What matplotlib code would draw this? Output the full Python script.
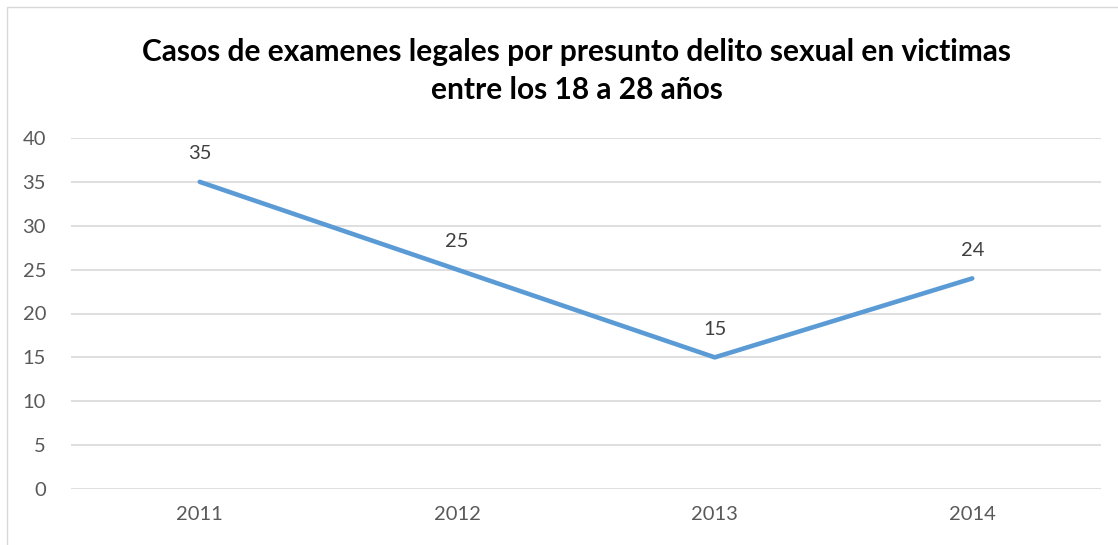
import matplotlib
matplotlib.use("Agg")
import matplotlib.pyplot as plt
from matplotlib.patches import Rectangle

# --- data ---------------------------------------
years = ["2011", "2012", "2013", "2014"]
casos = [35, 25, 15, 24]
y_ticks = [0, 5, 10, 15, 20, 25, 30, 35, 40]
title = "Casos de examenes legales por presunto delito sexual en victimas\nentre los 18 a 28 años"

plt.rcParams['font.family'] = ['Lato', 'DejaVu Sans']

W, H = 1118, 545
fig = plt.figure(figsize=(W / 100, H / 100), dpi=100)

# chart frame (only left/top edges visible in the crop)
fig.patches.append(Rectangle((7 / W, -0.1), 1.2, 1 - 7 / H + 0.1, transform=fig.transFigure,
                             fill=False, edgecolor='#D9D9D9', linewidth=1))

# plot area in pixels
left, right, top, bottom = 71, 1101, 138, 489
ax = fig.add_axes([left / W, 1 - bottom / H, (right - left) / W, (bottom - top) / H])

x = range(len(years))
ax.plot(x, casos, color='#5B9BD5', linewidth=3.3, solid_capstyle='round', zorder=3)
for i, v in zip(x, casos):
    ax.annotate(str(v), (i, v), xytext=(0, 14), textcoords='offset points',
                ha='center', va='bottom', fontsize=14.5, color='#404040')

ax.set_xlim(-0.5, len(years) - 0.5)
ax.set_ylim(0, 40)
ax.set_yticks(y_ticks)
ax.set_xticks(list(x))
ax.set_xticklabels(years)
ax.grid(axis='y', color='#D9D9D9', linewidth=1.2)
ax.set_axisbelow(True)
for s in ax.spines.values():
    s.set_visible(False)
ax.tick_params(length=0, labelsize=14.5, labelcolor='#595959')
ax.tick_params(axis='y', pad=18)
ax.tick_params(axis='x', pad=12)

fig.text(577 / W, 1 - 71 / H, title, ha='center', va='center', fontsize=21.5,
         fontweight='bold', color='black', linespacing=1.4)

plt.savefig("out.png", dpi=100)
